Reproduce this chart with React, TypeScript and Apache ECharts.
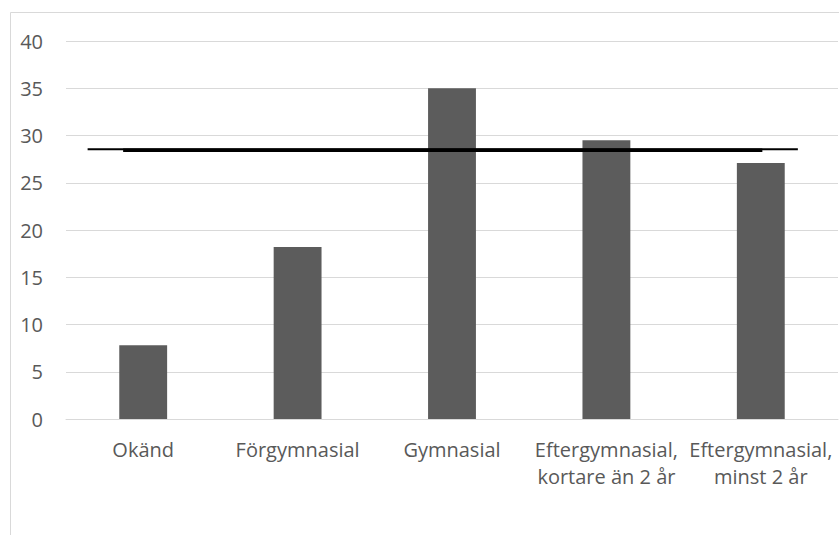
import React, { useEffect, useRef } from "react";
import * as echarts from "echarts";

const categories = [
  "Okänd",
  "Förgymnasial",
  "Gymnasial",
  "Eftergymnasial,\nkortare än 2 år",
  "Eftergymnasial,\nminst 2 år",
];
const values = [7.8, 18.2, 35.0, 29.5, 27.1];
const yTicks = { min: 0, max: 40, interval: 5 };
// reference line (average), positions on a 0..5 category-width scale
const refLineThin = [
  [0.14, 28.54],
  [4.74, 28.54],
];
const refLineThick = [
  [0.37, 28.45],
  [4.51, 28.45],
];

export default function App() {
  const ref = useRef<HTMLDivElement>(null);
  useEffect(() => {
    const chart = echarts.init(ref.current!, undefined, { renderer: "svg" });
    const font = "'Open Sans', 'Noto Sans', sans-serif";
    chart.setOption({
      animation: false,
      graphic: [
        {
          type: "rect",
          shape: { x: 10.5, y: 12.5, width: 900, height: 700 },
          style: { fill: "none", stroke: "#d9d9d9", lineWidth: 1 },
          silent: true,
        },
      ],
      grid: { left: 66, right: 1, top: 41, bottom: 116, containLabel: false },
      xAxis: [
        {
          type: "category",
          data: categories,
          axisLine: { lineStyle: { color: "#d9d9d9", width: 1 } },
          axisTick: { show: false },
          axisLabel: {
            color: "#595959",
            fontSize: 20,
            fontFamily: font,
            margin: 17,
            lineHeight: 27,
            interval: 0,
            align: "center",
          },
        },
        {
          type: "value",
          min: 0,
          max: 5,
          show: false,
        },
      ],
      yAxis: {
        type: "value",
        min: yTicks.min,
        max: yTicks.max,
        interval: yTicks.interval,
        axisLine: { show: false },
        axisTick: { show: false },
        splitLine: { lineStyle: { color: "#d9d9d9", width: 1 } },
        axisLabel: {
          color: "#595959",
          fontSize: 20,
          fontFamily: font,
          margin: 23,
        },
      },
      series: [
        {
          type: "bar",
          data: values,
          barWidth: "31%",
          itemStyle: { color: "#5c5c5c" },
          xAxisIndex: 0,
        },
        {
          type: "line",
          xAxisIndex: 1,
          data: refLineThin,
          symbol: "none",
          lineStyle: { color: "#000000", width: 2 },
          z: 5,
        },
        {
          type: "line",
          xAxisIndex: 1,
          data: refLineThick,
          symbol: "none",
          lineStyle: { color: "#000000", width: 3.5 },
          z: 5,
        },
      ],
    });
    return () => chart.dispose();
  }, []);
  return (
    <div
      ref={ref}
      style={{ position: "fixed", left: 0, top: 0, width: 839, height: 535, background: "#fff" }}
    />
  );
}
